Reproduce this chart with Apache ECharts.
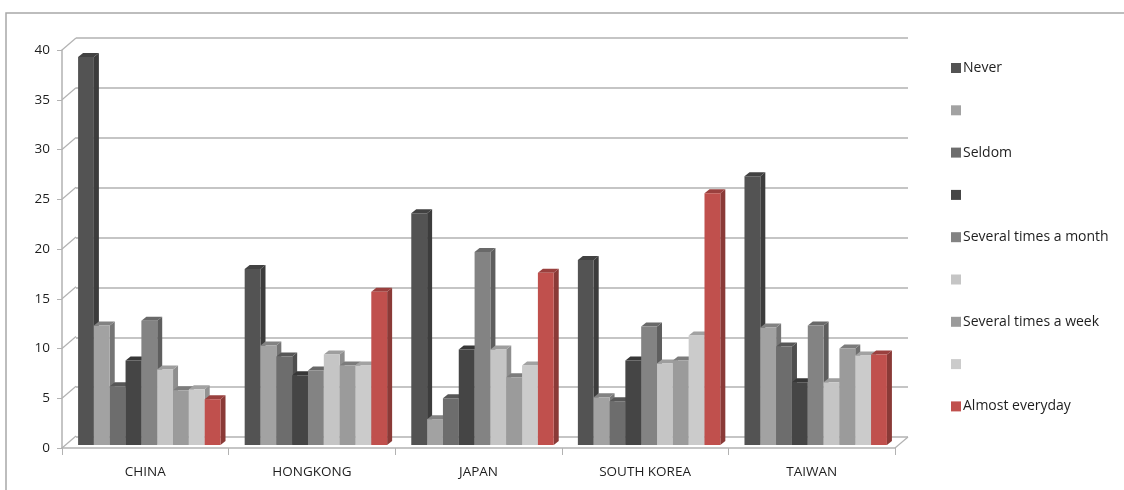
<!DOCTYPE html>
<html>
<head>
<meta charset="utf-8">
<script src="https://cdn.jsdelivr.net/npm/echarts@6/dist/echarts.min.js"></script>
<style>
  html, body { margin: 0; padding: 0; background: #fff; }
  #chart { width: 1124px; height: 490px; }
</style>
</head>
<body>
<div id="chart"></div>
<script>
const categories = ["CHINA", "HONGKONG", "JAPAN", "SOUTH KOREA", "TAIWAN"];
// blank legend entries in the original are kept as distinct whitespace names
const seriesNames = ["Never", " ", "Seldom", "  ", "Several times a month", "   ", "Several times a week", "    ", "Almost everyday"];
const never = [39, 17.7, 23.3, 18.6, 27];
const blank1 = [12, 10, 2.6, 4.8, 11.8];
const seldom = [5.9, 8.9, 4.7, 4.4, 9.9];
const blank2 = [8.5, 7, 9.6, 8.5, 6.3];
const month = [12.5, 7.5, 19.4, 11.9, 12];
const blank3 = [7.6, 9.1, 9.6, 8.2, 6.3];
const week = [5.5, 8, 6.8, 8.5, 9.7];
const blank4 = [5.6, 8, 8, 11, 9];
const almost = [4.6, 15.4, 17.3, 25.3, 9.1];
const yTicks = [0, 5, 10, 15, 20, 25, 30, 35, 40];

const values = [never, blank1, seldom, blank2, month, blank3, week, blank4, almost];
const colors = ["#535353", "#a2a2a2", "#6d6d6d", "#454545", "#838383", "#c5c5c5", "#9b9b9b", "#cbcbcb", "#c0504d"];
const gridColor = "#b2b2b2";
const font = "Open Sans";
const gapRatio = 0.145;
const depthX = 5, depthY = 4;

function shade(hex, k) {
  const n = parseInt(hex.slice(1), 16);
  const r = Math.round(((n >> 16) & 255) * k);
  const g = Math.round(((n >> 8) & 255) * k);
  const b = Math.round((n & 255) * k);
  return `rgb(${r},${g},${b})`;
}

function barRenderer(si) {
  return function (params, api) {
    const cat = api.value(0);
    const val = api.value(1);
    const top = api.coord([cat, val]);
    const base = api.coord([cat, 0]);
    const band = api.size([1, 0])[0];
    const bw = band * (1 - gapRatio) / seriesNames.length;
    const x = top[0] - bw * seriesNames.length / 2 + si * bw;
    const c = colors[si];
    return {
      type: "group",
      children: [
        { type: "polygon", shape: { points: [[x + bw, top[1]], [x + bw + depthX, top[1] - depthY], [x + bw + depthX, base[1] - depthY], [x + bw, base[1]]] }, style: { fill: shade(c, 0.72) } },
        { type: "polygon", shape: { points: [[x, top[1]], [x + depthX, top[1] - depthY], [x + bw + depthX, top[1] - depthY], [x + bw, top[1]]] }, style: { fill: shade(c, 0.8) } },
        { type: "rect", shape: { x: x, y: top[1], width: bw, height: base[1] - top[1] }, style: { fill: c } }
      ]
    };
  };
}

const chart = echarts.init(document.getElementById("chart"));

const barSeries = seriesNames.map((name, si) => ({
  name,
  type: "custom",
  xAxisIndex: 2,
  yAxisIndex: 2,
  z: 3 + si,
  itemStyle: { color: colors[si] },
  encode: { x: 0, y: 1 },
  data: values[si].map((v, ci) => [ci, v]),
  renderItem: barRenderer(si)
}));

chart.setOption({
  animation: false,
  textStyle: { fontFamily: font },
  graphic: [
    { type: "rect", shape: { x: 6, y: 13, width: 1300, height: 700 }, style: { fill: null, stroke: "#a8a8a8", lineWidth: 1.5 }, silent: true }
  ],
  legend: {
    orient: "vertical",
    left: 946,
    top: 56,
    itemWidth: 10,
    itemHeight: 10,
    itemGap: 28.3,
    icon: "rect",
    selectedMode: false,
    data: seriesNames,
    textStyle: { fontFamily: font, fontSize: 14, color: "#1e1e1e", lineHeight: 14, padding: [0, 0, 0, -3] }
  },
  grid: [
    // back wall
    { left: 76, right: 216, top: 38, bottom: 53 },
    // front axes
    { left: 62, right: 229, top: 50, bottom: 42 },
    // bar plane
    { left: 66, right: 225, top: 47, bottom: 45 }
  ],
  xAxis: [
    { gridIndex: 0, type: "category", data: categories, show: false },
    {
      gridIndex: 1, type: "category", data: categories,
      axisLine: { lineStyle: { color: gridColor, width: 1.5 } },
      axisTick: { show: true, length: 7, lineStyle: { color: gridColor } },
      axisLabel: { margin: 17, fontSize: 13.5, color: "#1e1e1e", fontFamily: font }
    },
    { gridIndex: 2, type: "category", data: categories, show: false }
  ],
  yAxis: [
    {
      gridIndex: 0, type: "value", min: 0, max: 40, interval: 5,
      axisLine: { show: false }, axisTick: { show: false }, axisLabel: { show: false },
      splitLine: { show: true, lineStyle: { color: gridColor, width: 1.5 } }
    },
    {
      gridIndex: 1, type: "value", min: 0, max: 40, interval: 5,
      axisLine: { show: true, lineStyle: { color: gridColor, width: 1.5 } },
      axisTick: { show: true, length: 5, lineStyle: { color: gridColor } },
      axisLabel: { margin: 12, fontSize: 13.5, color: "#1e1e1e", fontFamily: font },
      splitLine: { show: false }
    },
    { gridIndex: 2, type: "value", min: 0, max: 40, interval: 5, show: false, splitLine: { show: false } }
  ],
  series: [
    {
      name: "sideWall",
      type: "custom",
      xAxisIndex: 1,
      yAxisIndex: 1,
      silent: true,
      encode: { y: 0 },
      data: yTicks.map((v) => [v]),
      renderItem: function (params, api) {
        const cs = params.coordSys;
        const y = api.coord([0, api.value(0)])[1];
        return { type: "line", shape: { x1: cs.x, y1: y, x2: cs.x + 14, y2: y - 12 }, style: { stroke: gridColor, lineWidth: 1.2 } };
      }
    },
    {
      name: "floorEdge",
      type: "custom",
      xAxisIndex: 1,
      yAxisIndex: 1,
      silent: true,
      encode: { y: 0 },
      data: [[0]],
      renderItem: function (params, api) {
        const cs = params.coordSys;
        const y = api.coord([0, api.value(0)])[1];
        return { type: "line", shape: { x1: cs.x + cs.width, y1: y, x2: cs.x + cs.width + 13, y2: y - 11 }, style: { stroke: gridColor, lineWidth: 1.2 } };
      }
    },
    ...barSeries
  ]
});
</script>
</body>
</html>
